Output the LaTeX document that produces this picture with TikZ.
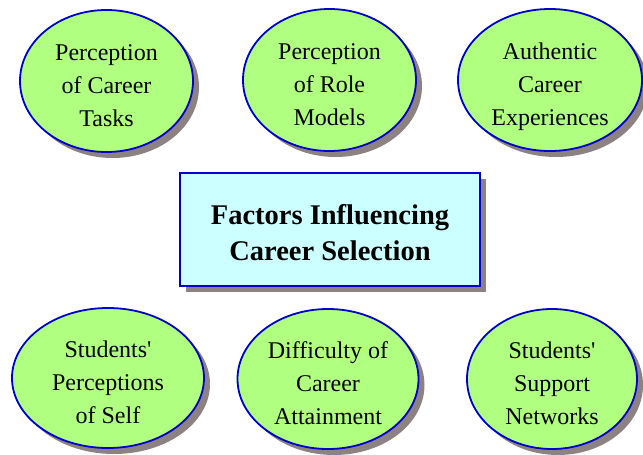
\documentclass[tikz,border=0pt]{standalone}
\usepackage{fontspec}
\setmainfont{Liberation Serif}
\usetikzlibrary{shapes.geometric,shadows}
\definecolor{factorgreen}{HTML}{B0FF80}
\definecolor{rimblue}{HTML}{0000CC}
\definecolor{shadegray}{HTML}{8C8282}
\definecolor{titlecyan}{HTML}{CCFFFF}
\tikzset{
  shade/.style={general shadow={fill=shadegray,shadow xshift=6pt,shadow yshift=-6pt}},
  factor/.style={ellipse,shade,draw=rimblue,line width=1.8pt,fill=factorgreen,
    inner sep=0pt,align=center,text height=90pt,text depth=0pt,
    font=\fontsize{24}{33}\selectfont},
  title/.style={rectangle,shade,draw=rimblue,line width=1.8pt,fill=titlecyan,
    minimum width=300pt,minimum height=113pt,align=center,
    text height=61pt,text depth=0pt,
    font=\fontsize{28.5}{36}\selectfont\bfseries}
}
\begin{document}
\begin{tikzpicture}[x=1pt,y=-1pt]
    \useasboundingbox (0,0) rectangle (643,455);

    % coordinates to be reused
    \coordinate (tl) at (106.5,81);
    \coordinate (tm) at (329.5,80);
    \coordinate (tr) at (550,80);
    \coordinate (bl) at (108,378);
    \coordinate (bm) at (328,379);
    \coordinate (br) at (552,379);
    \coordinate (mid) at (330,229.5);

    % draw figure
    \node [title] (sel) at (mid) {Factors Influencing\\Career Selection};
    \node [factor,minimum width=173pt,minimum height=142pt] (tasks) at (tl) {Perception\\of Career\\Tasks};
    \node [factor,minimum width=173pt,minimum height=142pt] (roles) at (tm) {Perception\\of Role\\Models};
    \node [factor,minimum width=184pt,minimum height=142pt] (exper) at (tr) {Authentic\\Career\\Experiences};
    \node [factor,minimum width=192pt,minimum height=140pt] (self) at (bl) {Students\textquotesingle\\Perceptions\\of Self};
    \node [factor,minimum width=181pt,minimum height=140pt] (attain) at (bm) {Difficulty of\\Career\\Attainment};
    \node [factor,minimum width=170pt,minimum height=140pt] (support) at (br) {Students\textquotesingle\\Support\\Networks};
\end{tikzpicture}
\end{document}
